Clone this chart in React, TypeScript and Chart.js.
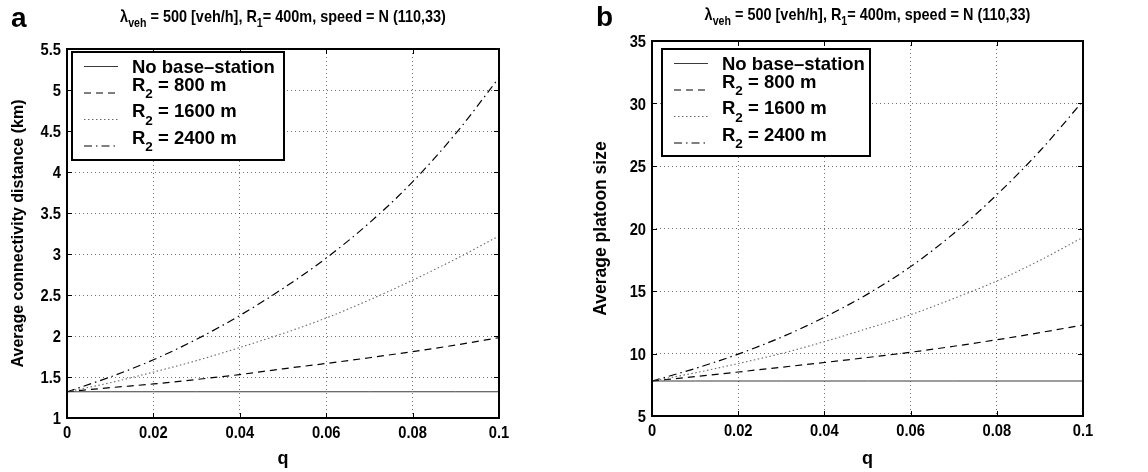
import React, { useEffect, useRef } from 'react';
import { Chart, registerables } from 'chart.js';

Chart.register(...registerables);

// ---------------- data ----------------
const Q = [0, 0.01, 0.02, 0.03, 0.04, 0.05, 0.06, 0.07, 0.08, 0.09, 0.1];

// panel a: average connectivity distance (km)
const A_NO_BASE = [1.32, 1.32, 1.32, 1.32, 1.32, 1.32, 1.32, 1.32, 1.32, 1.32, 1.32];
const A_R800 = [1.32, 1.37, 1.415, 1.47, 1.53, 1.6, 1.665, 1.735, 1.81, 1.89, 1.98];
const A_R1600 = [1.32, 1.43, 1.56, 1.7, 1.86, 2.03, 2.22, 2.44, 2.68, 2.94, 3.22];
const A_R2400 = [1.32, 1.5, 1.71, 1.96, 2.25, 2.58, 2.95, 3.38, 3.88, 4.47, 5.15];

// panel b: average platoon size
const B_NO_BASE = [7.8, 7.8, 7.8, 7.8, 7.8, 7.8, 7.8, 7.8, 7.8, 7.8, 7.8];
const B_R800 = [7.8, 8.15, 8.52, 8.9, 9.28, 9.68, 10.1, 10.58, 11.1, 11.67, 12.28];
const B_R1600 = [7.8, 8.45, 9.2, 10.0, 10.95, 12.0, 13.1, 14.4, 15.8, 17.45, 19.3];
const B_R2400 = [7.8, 8.8, 9.95, 11.3, 12.9, 14.75, 16.95, 19.6, 22.7, 26.2, 30.2];

const X_TICKS = [0, 0.02, 0.04, 0.06, 0.08, 0.1];
const A_Y_TICKS = [1, 1.5, 2, 2.5, 3, 3.5, 4, 4.5, 5, 5.5];
const B_Y_TICKS = [5, 10, 15, 20, 25, 30, 35];

type Seg = { t: string; sub?: boolean };

const SERIES_LABELS: Seg[][] = [
  [{ t: 'No base\u2013station' }],
  [{ t: 'R' }, { t: '2', sub: true }, { t: ' = 800 m' }],
  [{ t: 'R' }, { t: '2', sub: true }, { t: ' = 1600 m' }],
  [{ t: 'R' }, { t: '2', sub: true }, { t: ' = 2400 m' }],
];

const TITLE_SEGS: Seg[] = [
  { t: '\u03bb' },
  { t: 'veh', sub: true },
  { t: ' = 500 [veh/h], R' },
  { t: '1', sub: true },
  { t: '= 400m, speed = N (110,33)' },
];

const X_TITLE = 'q';

const FONT = "'Liberation Sans', Arial, Helvetica, sans-serif";

const STYLES = [
  { color: '#3a3a3a', width: 1, dash: [] as number[] },
  { color: '#000000', width: 1.2, dash: [7, 5] },
  { color: '#6a6a6a', width: 1.1, dash: [1.5, 2.5] },
  { color: '#000000', width: 1.2, dash: [8, 4, 1.5, 4] },
];

// ---------------- helpers ----------------
function drawSegs(
  ctx: CanvasRenderingContext2D,
  segs: Seg[],
  x: number,
  y: number,
  align: 'left' | 'center',
  mainFont: string,
  subFont: string,
  subDy: number,
  sx: number
) {
  const widths = segs.map((s) => {
    ctx.font = s.sub ? subFont : mainFont;
    return ctx.measureText(s.t).width * sx;
  });
  const total = widths.reduce((a, b) => a + b, 0);
  let cx = align === 'center' ? x - total / 2 : x;
  ctx.textAlign = 'left';
  ctx.textBaseline = 'alphabetic';
  segs.forEach((s, i) => {
    ctx.font = s.sub ? subFont : mainFont;
    ctx.save();
    ctx.translate(cx, s.sub ? y + subDy : y);
    ctx.scale(sx, 1);
    ctx.fillText(s.t, 0, 0);
    ctx.restore();
    cx += widths[i];
  });
}

function scaledText(
  ctx: CanvasRenderingContext2D,
  text: string,
  x: number,
  y: number,
  align: CanvasTextAlign,
  font: string,
  sx: number,
  rot = 0
) {
  ctx.save();
  ctx.font = font;
  ctx.textAlign = align;
  ctx.textBaseline = 'alphabetic';
  ctx.translate(x, y);
  if (rot) ctx.rotate(rot);
  ctx.scale(sx, 1);
  ctx.fillText(text, 0, 0);
  ctx.restore();
}

function fmt(v: number) {
  return String(+v.toFixed(3));
}

const decorPlugin = {
  id: 'matlabDecor',
  afterDraw(chart: any, _args: any, opts: any) {
    const { ctx, chartArea: ca, scales } = chart;
    const xs = scales.x;
    const ys = scales.y;
    ctx.save();
    // inner tick marks on all four sides
    ctx.strokeStyle = '#000';
    ctx.lineWidth = 1;
    const L = 5;
    ctx.beginPath();
    xs.ticks.forEach((_t: any, i: number) => {
      const px = Math.round(xs.getPixelForTick(i)) + 0.5;
      ctx.moveTo(px, ca.bottom);
      ctx.lineTo(px, ca.bottom - L);
      ctx.moveTo(px, ca.top);
      ctx.lineTo(px, ca.top + L);
    });
    ys.ticks.forEach((_t: any, i: number) => {
      const py = Math.round(ys.getPixelForTick(i)) + 0.5;
      ctx.moveTo(ca.left, py);
      ctx.lineTo(ca.left + L, py);
      ctx.moveTo(ca.right, py);
      ctx.lineTo(ca.right - L, py);
    });
    ctx.stroke();

    // axes box
    ctx.lineWidth = 2;
    ctx.strokeRect(ca.left, ca.top, ca.right - ca.left, ca.bottom - ca.top);

    ctx.fillStyle = '#000';
    // tick labels (positions from the library's scales)
    const tickFont = `bold 16px ${FONT}`;
    xs.ticks.forEach((t: any, i: number) => {
      const px = xs.getPixelForTick(i);
      scaledText(ctx, fmt(t.value), px, ca.bottom + opts.xTickDy, 'center', tickFont, 0.92);
    });
    ys.ticks.forEach((t: any, i: number) => {
      const py = ys.getPixelForTick(i);
      scaledText(ctx, fmt(t.value), ca.left - 6, py + 6, 'right', tickFont, 0.92);
    });

    // axis titles
    scaledText(ctx, X_TITLE, (ca.left + ca.right) / 2, 464, 'center', `bold 18px ${FONT}`, 1);
    scaledText(
      ctx,
      opts.yTitle,
      opts.yTitleX,
      (ca.top + ca.bottom) / 2,
      'center',
      `bold ${opts.yTitleSize}px ${FONT}`,
      1,
      -Math.PI / 2
    );

    // title
    drawSegs(
      ctx,
      TITLE_SEGS,
      (ca.left + ca.right) / 2,
      opts.titleY,
      'center',
      `bold 17px ${FONT}`,
      `bold 12.5px ${FONT}`,
      4.5,
      0.85
    );

    // panel letter
    scaledText(ctx, opts.letter, opts.letterX, opts.letterY, 'left', `bold 28px ${FONT}`, 1);

    // legend
    const lg = opts.legend;
    ctx.fillStyle = '#fff';
    ctx.fillRect(lg.x, lg.y, lg.w, lg.h);
    ctx.lineWidth = 2;
    ctx.strokeStyle = '#000';
    ctx.strokeRect(lg.x, lg.y, lg.w, lg.h);
    chart.data.datasets.forEach((ds: any, i: number) => {
      const rowY = lg.y + 14 + i * 26.5;
      ctx.save();
      ctx.strokeStyle = ds.borderColor;
      ctx.lineWidth = ds.borderWidth;
      ctx.setLineDash(ds.borderDash || []);
      ctx.beginPath();
      ctx.moveTo(lg.x + 12, rowY + 0.5);
      ctx.lineTo(lg.x + 46, rowY + 0.5);
      ctx.stroke();
      ctx.restore();
      ctx.fillStyle = '#000';
      const segs: Seg[] = SERIES_LABELS[i];
      const hasSub = segs.some((s) => s.sub);
      const baseY = hasSub ? rowY - 2 : rowY + 6.5;
      drawSegs(ctx, segs, lg.x + 60, baseY, 'left', `bold 18.5px ${FONT}`, `bold 13.5px ${FONT}`, 7.5, 1);
    });
    ctx.restore();
  },
};

type PanelCfg = {
  series: number[][];
  yTicks: number[];
  yTitle: string;
  yTitleX: number;
  yTitleSize: number;
  padRight: number;
  padTop: number;
  yWidth: number;
  xHeight: number;
  xTickDy: number;
  titleY: number;
  letter: string;
  letterX: number;
  letterY: number;
  legend: { x: number; y: number; w: number; h: number };
};

function Panel({ cfg }: { cfg: PanelCfg }) {
  const ref = useRef<HTMLCanvasElement | null>(null);
  useEffect(() => {
    if (!ref.current) return;
    const datasets = cfg.series.map((vals, i) => ({
      label: SERIES_LABELS[i].map((s) => s.t).join(''),
      data: Q.map((q, k) => ({ x: q, y: vals[k] })),
      borderColor: STYLES[i].color,
      borderWidth: STYLES[i].width,
      borderDash: STYLES[i].dash,
      pointRadius: 0,
      fill: false,
      cubicInterpolationMode: 'monotone' as const,
    }));
    const yMin = cfg.yTicks[0];
    const yMax = cfg.yTicks[cfg.yTicks.length - 1];
    const chart = new Chart(ref.current, {
      type: 'line',
      data: { datasets },
      plugins: [decorPlugin],
      options: {
        animation: false,
        responsive: false,
        devicePixelRatio: 1,
        layout: { padding: { left: 0, right: cfg.padRight, top: cfg.padTop, bottom: 0 } },
        plugins: {
          legend: { display: false },
          tooltip: { enabled: false },
          title: { display: false },
          matlabDecor: {
            titleY: cfg.titleY,
            letter: cfg.letter,
            letterX: cfg.letterX,
            letterY: cfg.letterY,
            legend: cfg.legend,
            yTitle: cfg.yTitle,
            yTitleX: cfg.yTitleX,
            yTitleSize: cfg.yTitleSize,
            xTickDy: cfg.xTickDy,
          },
        } as any,
        scales: {
          x: {
            type: 'linear',
            min: X_TICKS[0],
            max: X_TICKS[X_TICKS.length - 1],
            afterBuildTicks: (s: any) => {
              s.ticks = X_TICKS.map((v) => ({ value: v }));
            },
            afterFit: (s: any) => {
              s.height = cfg.xHeight;
            },
            ticks: { display: false, autoSkip: false },
            grid: { color: 'rgba(0,0,0,0.55)', lineWidth: 1, drawTicks: false },
            border: { display: false, dash: [1, 3] },
          },
          y: {
            type: 'linear',
            min: yMin,
            max: yMax,
            afterBuildTicks: (s: any) => {
              s.ticks = cfg.yTicks.map((v) => ({ value: v }));
            },
            afterFit: (s: any) => {
              s.width = cfg.yWidth;
            },
            ticks: { display: false, autoSkip: false },
            grid: { color: 'rgba(0,0,0,0.55)', lineWidth: 1, drawTicks: false },
            border: { display: false, dash: [1, 3] },
          },
        },
      } as any,
    });
    return () => chart.destroy();
  }, [cfg]);
  return <canvas ref={ref} width={574} height={472} style={{ display: 'block' }} />;
}

const PANEL_A: PanelCfg = {
  series: [A_NO_BASE, A_R800, A_R1600, A_R2400],
  yTicks: A_Y_TICKS,
  yTitle: 'Average connectivity distance (km)',
  yTitleX: 23,
  yTitleSize: 16,
  padRight: 75,
  padTop: 49,
  yWidth: 67,
  xHeight: 54,
  xTickDy: 20,
  titleY: 22,
  letter: 'a',
  letterX: 11,
  letterY: 27,
  legend: { x: 72, y: 52, w: 212, h: 108 },
};

const PANEL_B: PanelCfg = {
  series: [B_NO_BASE, B_R800, B_R1600, B_R2400],
  yTicks: B_Y_TICKS,
  yTitle: 'Average platoon size',
  yTitleX: 32,
  yTitleSize: 17.5,
  padRight: 65,
  padTop: 41,
  yWidth: 78,
  xHeight: 56,
  xTickDy: 20,
  titleY: 20,
  letter: 'b',
  letterX: 22,
  letterY: 26,
  legend: { x: 88, y: 49, w: 208, h: 107 },
};

export default function App() {
  return (
    <div
      style={{
        position: 'absolute',
        left: 0,
        top: 0,
        width: 1148,
        height: 472,
        background: '#fff',
        display: 'flex',
      }}
    >
      <Panel cfg={PANEL_A} />
      <Panel cfg={PANEL_B} />
    </div>
  );
}
